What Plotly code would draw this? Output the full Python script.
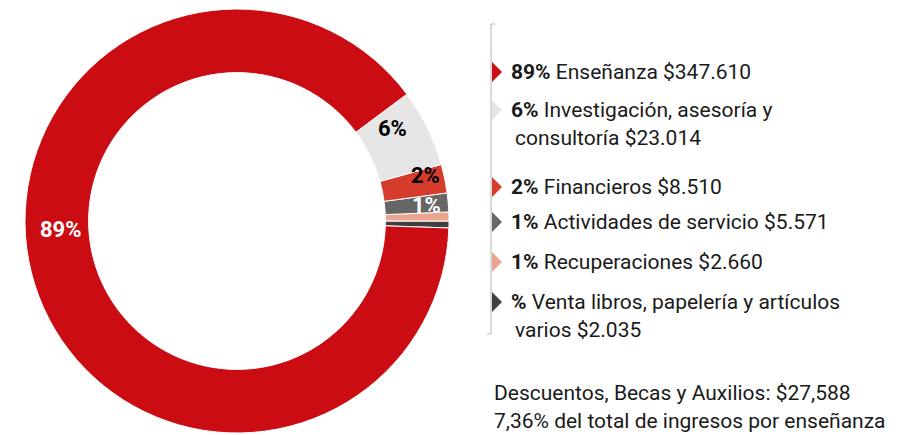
import plotly.graph_objects as go

categories = ["Venta libros, papelería y artículos varios", "Recuperaciones", "Actividades de servicio",
              "Financieros", "Investigación, asesoría y consultoría", "Enseñanza"]
values = [2035, 2660, 5571, 8510, 23014, 347610]
colors = ["#404040", "#eba48e", "#666666", "#d63c2c", "#e6e6e6", "#cb0d13"]

legend_rows = [
    ("89%", "Enseñanza $347.610", None),
    ("6%", "Investigación, asesoría y", "consultoría $23.014"),
    ("2%", "Financieros $8.510", None),
    ("1%", "Actividades de servicio $5.571", None),
    ("1%", "Recuperaciones $2.660", None),
    ("%", "Venta libros, papelería y artículos", "varios $2.035"),
]
legend_colors = ["#cb0d13", "#e6e6e6", "#d63c2c", "#666666", "#eba48e", "#404040"]
note_lines = ["Descuentos, Becas y Auxilios: $27,588", "7,36% del total de ingresos por enseñanza"]

W, H = 904, 435
FONT = "Roboto"

fig = go.Figure(go.Pie(
    labels=categories, values=values, hole=0.70, sort=False,
    direction="counterclockwise", rotation=90,
    marker=dict(colors=colors, line=dict(color="white", width=1)),
    textinfo="none", showlegend=False, hoverinfo="label+value",
    domain=dict(x=[25 / W, 449 / W], y=[1 - 433 / H, 1 - 9 / H]),
))

def px(x): return x / W
def py(y): return 1 - y / H

shapes, annotations = [], []

def note(x, y, text, size=21, color="#1a1a1a", xanchor="left", family=FONT):
    annotations.append(dict(x=px(x), y=py(y), xref="paper", yref="paper", xanchor=xanchor, yanchor="middle",
                            text=text, showarrow=False, font=dict(family=family, size=size, color=color)))

# slice labels
slice_label_pos = [(61, 229, "white"), (392, 129, "black"), (425, 175, "black"), (426, 205, "white")]
slice_label_txt = ["89%", "6%", "2%", "1%"]
for (x, y, c), t in zip(slice_label_pos, slice_label_txt):
    note(x, y, f"<b>{t}</b>", size=22, color=c, xanchor="center")

# legend vertical line with end ticks
LC = "#b5b5b5"
shapes.append(dict(type="line", xref="paper", yref="paper", x0=px(491), x1=px(491), y0=py(24), y1=py(334),
                   line=dict(color=LC, width=1)))
shapes.append(dict(type="line", xref="paper", yref="paper", x0=px(491), x1=px(495), y0=py(24), y1=py(24),
                   line=dict(color=LC, width=1)))
shapes.append(dict(type="line", xref="paper", yref="paper", x0=px(487), x1=px(491), y0=py(334), y1=py(334),
                   line=dict(color=LC, width=1)))

row_y = [72, 110, 187, 222, 262, 302]
for (bold, line1, line2), col, y in zip(legend_rows, legend_colors, row_y):
    shapes.append(dict(type="path", xref="paper", yref="paper",
                       path=f"M {px(492)},{py(y-10)} L {px(502)},{py(y)} L {px(492)},{py(y+10)} Z",
                       fillcolor=col, line=dict(width=0)))
    note(509, y, f"<b>{bold}</b> {line1}")
    if line2:
        note(513, y + 28, line2)

for i, t in enumerate(note_lines):
    note(492, 393 + 28 * i, t)

fig.update_layout(width=W, height=H, margin=dict(l=0, r=0, t=0, b=0),
                  paper_bgcolor="white", plot_bgcolor="white",
                  shapes=shapes, annotations=annotations)
fig.write_html("out.html", config={"displayModeBar": False},
               post_script="document.body.style.margin='0px';")
